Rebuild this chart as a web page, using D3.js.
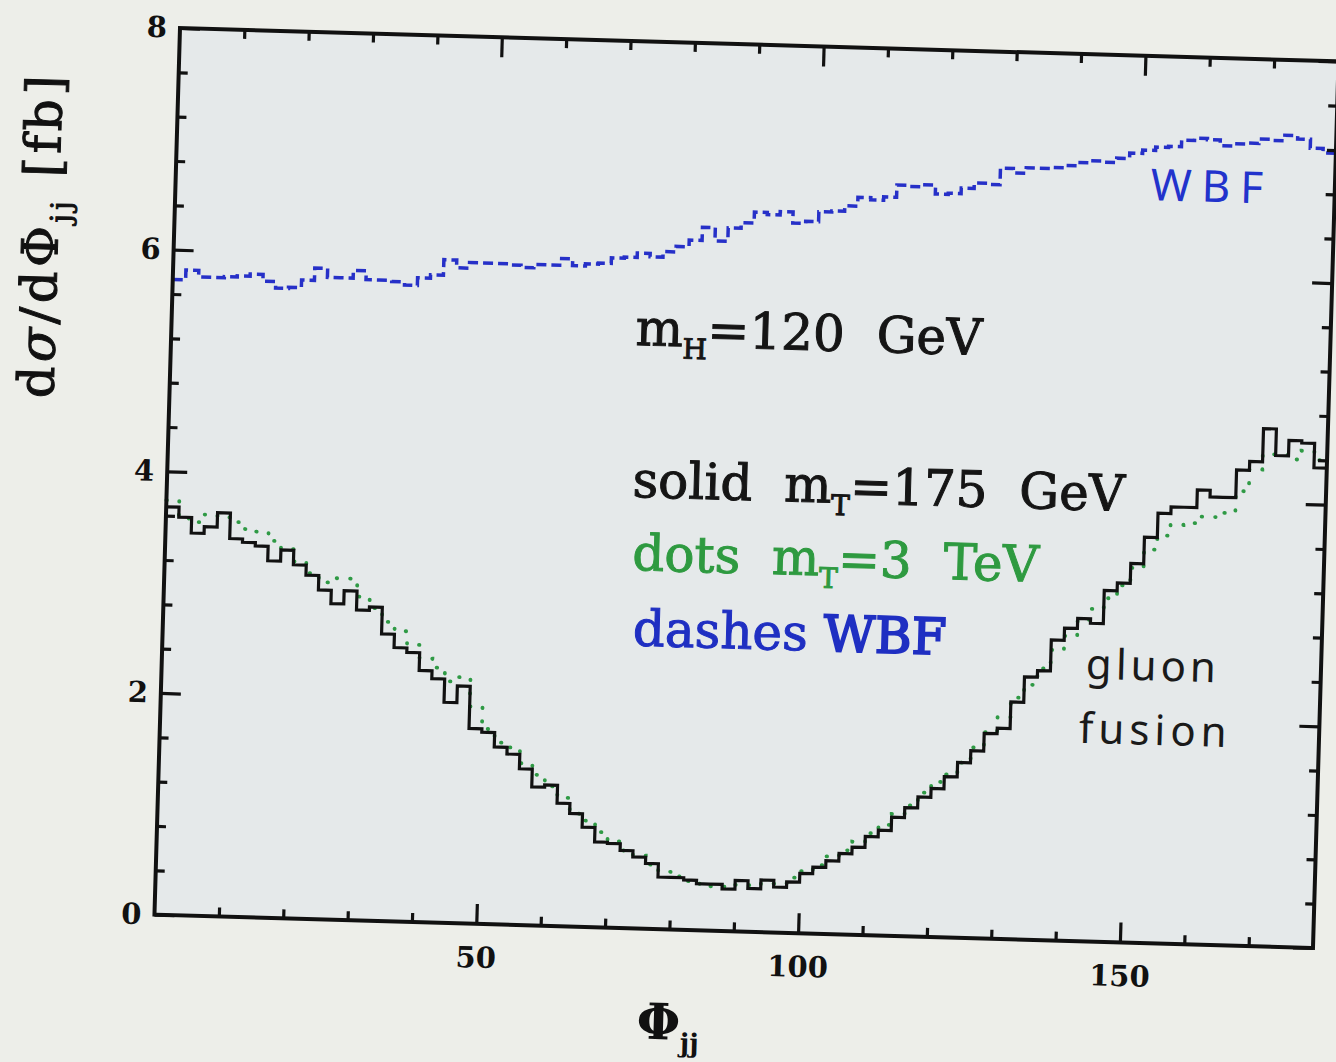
<!DOCTYPE html>
<html lang="en">
<head>
<meta charset="UTF-8">
<title>dsigma/dPhi_jj</title>
<script src="https://d3js.org/d3.v7.min.js"></script>
<style>
    html, body { margin: 0; background: #ecede8; }
    svg { display: block; }
    .axis path { display: none; }
    .axis line { stroke: #111; stroke-width: 3.2; }
    .axis text { font-family: "DejaVu Serif", serif; font-weight: bold; font-size: 29px; fill: #111; }
    .note { font-family: "DejaVu Serif", serif; font-size: 50px; white-space: pre; stroke-width: 1; }
    .hand { font-family: "Noto Sans", sans-serif; }
</style>
</head>
<body>
<script>

// histogram bins, 2 degrees wide, 0..180
var binWidth = 2;

// solid: m_T = 175 GeV (gluon fusion)
var topMass175 = [3.68, 3.59, 3.45, 3.51, 3.64, 3.41, 3.38, 3.35, 3.22, 3.32,
    3.19, 3.10, 2.97, 2.85, 2.97, 2.80, 2.83, 2.59, 2.47, 2.43,
    2.27, 2.20, 1.99, 2.14, 1.76, 1.73, 1.60, 1.54, 1.41, 1.25,
    1.27, 1.11, 1.02, 0.90, 0.77, 0.76, 0.70, 0.645, 0.59, 0.47,
    0.47, 0.45, 0.42, 0.42, 0.38, 0.46, 0.39, 0.47, 0.41, 0.46,
    0.54, 0.60, 0.66, 0.73, 0.79, 0.89, 0.95, 1.07, 1.16, 1.26,
    1.34, 1.45, 1.58, 1.69, 1.85, 1.90, 2.14, 2.37, 2.43, 2.71,
    2.82, 2.91, 2.87, 3.17, 3.24, 3.42, 3.66, 3.88, 3.94, 3.94,
    4.10, 4.04, 4.04, 4.29, 4.37, 4.67, 4.43, 4.57, 4.55, 4.33];

// dots: m_T = 3 TeV
var topMass3TeV = [3.74, 3.58, 3.55, 3.62, 3.60, 3.56, 3.50, 3.48, 3.40, 3.33,
    3.22, 3.12, 3.04, 3.08, 3.08, 2.92, 2.82, 2.70, 2.62, 2.50,
    2.38, 2.30, 2.18, 2.22, 1.96, 1.76, 1.64, 1.60, 1.46, 1.36,
    1.26, 1.16, 1.02, 0.96, 0.86, 0.78, 0.70, 0.66, 0.58, 0.52,
    0.48, 0.44, 0.42, 0.40, 0.40, 0.42, 0.42, 0.44, 0.44, 0.50,
    0.56, 0.62, 0.70, 0.76, 0.84, 0.92, 1.00, 1.10, 1.18, 1.30,
    1.40, 1.47, 1.58, 1.72, 1.86, 2.00, 2.18, 2.30, 2.45, 2.62,
    2.75, 2.90, 3.00, 3.10, 3.22, 3.38, 3.55, 3.68, 3.78, 3.80,
    3.86, 3.86, 3.90, 4.10, 4.30, 4.44, 4.44, 4.40, 4.48, 4.40];

// dashes: WBF
var wbf = [5.73, 5.82, 5.76, 5.76, 5.77, 5.78, 5.80, 5.74, 5.68, 5.69,
    5.76, 5.87, 5.79, 5.79, 5.86, 5.78, 5.78, 5.77, 5.74, 5.81,
    5.84, 5.98, 5.91, 5.96, 5.96, 5.96, 5.95, 5.93, 5.96, 5.96,
    6.02, 5.96, 5.98, 5.99, 6.04, 6.05, 6.09, 6.06, 6.11, 6.16,
    6.22, 6.34, 6.22, 6.34, 6.39, 6.49, 6.47, 6.50, 6.40, 6.42,
    6.51, 6.52, 6.57, 6.65, 6.63, 6.66, 6.77, 6.76, 6.78, 6.70,
    6.71, 6.76, 6.81, 6.80, 6.95, 6.91, 6.96, 6.96, 6.97, 6.99,
    7.02, 7.04, 7.03, 7.07, 7.12, 7.15, 7.18, 7.19, 7.25, 7.27,
    7.26, 7.21, 7.23, 7.24, 7.28, 7.27, 7.32, 7.29, 7.21, 7.17];

var xMajorTicks = [50, 100, 150];
var xMinorTicks = [10, 20, 30, 40, 60, 70, 80, 90, 110, 120, 130, 140, 160, 170];
var yMajorTicks = [0, 2, 4, 6, 8];
var yMinorTicks = [0.4, 0.8, 1.2, 1.6, 2.4, 2.8, 3.2, 3.6, 4.4, 4.8, 5.2, 5.6, 6.4, 6.8, 7.2, 7.6];

var W = 1159, H = 887;

var svg = d3.select("body").append("svg")
    .attr("width", 1336)
    .attr("height", 1062);

svg.append("rect")
    .attr("width", 1336).attr("height", 1062)
    .attr("fill", "#edeee9");

// the scanned page sits a little tilted
var g = svg.append("g")
    .attr("transform", "translate(180,28) rotate(1.65)");

var x = d3.scaleLinear().domain([0, 180]).range([0, W]);
var y = d3.scaleLinear().domain([0, 8]).range([H, 0]);

g.append("rect")
    .attr("width", W).attr("height", H)
    .attr("fill", "#e5e9ea");

function steps(values) {
    var pts = values.map(function (v, i) { return [i * binWidth, v]; });
    pts.push([values.length * binWidth, values[values.length - 1]]);
    return pts;
}

var line = d3.line()
    .x(function (d) { return x(d[0]); })
    .y(function (d) { return y(d[1]); })
    .curve(d3.curveStepAfter);

g.append("path")
    .attr("d", line(steps(wbf)))
    .attr("fill", "none")
    .attr("stroke", "#2630c8")
    .attr("stroke-width", 3.5)
    .attr("stroke-dasharray", "10,5");

g.append("path")
    .attr("d", line(steps(topMass3TeV)))
    .attr("fill", "none")
    .attr("stroke", "#2f9a45")
    .attr("stroke-width", 3.8)
    .attr("stroke-linecap", "round")
    .attr("stroke-dasharray", "0.5,13");

g.append("path")
    .attr("d", line(steps(topMass175)))
    .attr("fill", "none")
    .attr("stroke", "#111")
    .attr("stroke-width", 3.2);

// axes, ticks pointing inward on all four sides
function addAxis(gen, tr) {
    g.append("g").attr("class", "axis").attr("transform", tr).call(gen);
}
addAxis(d3.axisBottom(x).tickValues(xMajorTicks).tickSize(-20).tickPadding(23).tickFormat(d3.format("d")), "translate(0," + H + ")");
addAxis(d3.axisBottom(x).tickValues(xMinorTicks).tickSize(-9).tickFormat(""), "translate(0," + H + ")");
addAxis(d3.axisTop(x).tickValues(xMajorTicks).tickSize(-20).tickFormat(""), "translate(0,0)");
addAxis(d3.axisTop(x).tickValues(xMinorTicks).tickSize(-9).tickFormat(""), "translate(0,0)");
addAxis(d3.axisLeft(y).tickValues(yMajorTicks).tickSize(-20).tickPadding(13).tickFormat(d3.format("d")), "translate(0,0)");
addAxis(d3.axisLeft(y).tickValues(yMinorTicks).tickSize(-9).tickFormat(""), "translate(0,0)");
addAxis(d3.axisRight(y).tickValues(yMajorTicks).tickSize(-20).tickFormat(""), "translate(" + W + ",0)");
addAxis(d3.axisRight(y).tickValues(yMinorTicks).tickSize(-9).tickFormat(""), "translate(" + W + ",0)");

g.append("rect")
    .attr("width", W).attr("height", H)
    .attr("fill", "none")
    .attr("stroke", "#111")
    .attr("stroke-width", 4);

// axis titles
var yt = g.append("text")
    .attr("class", "note")
    .attr("transform", "translate(-116," + y(6.1) + ") rotate(-90)")
    .attr("text-anchor", "middle")
    .attr("font-size", 52)
    .attr("letter-spacing", 4)
    .attr("fill", "#111")
    .attr("stroke", "#111");
yt.append("tspan").text("d");
yt.append("tspan").attr("font-style", "italic").text("\u03c3");
yt.append("tspan").text("/d\u03a6");
yt.append("tspan").attr("font-size", 28).attr("dy", 12).text("jj");
yt.append("tspan").attr("dy", -12).text(" [fb]");

var xt = g.append("text")
    .attr("class", "note")
    .attr("x", x(80.2)).attr("y", H + 110)
    .attr("text-anchor", "middle")
    .attr("font-size", 44)
    .attr("font-weight", "bold")
    .attr("fill", "#111");
xt.append("tspan").text("\u03a6");
xt.append("tspan").attr("font-size", 26).attr("dy", 12).text("jj");

// legend-ish annotations
function note(px, py, color, parts) {
    var t = g.append("text")
        .attr("class", "note")
        .attr("x", x(px)).attr("y", y(py))
        .attr("fill", color)
        .attr("stroke", color);
    parts.forEach(function (p) {
        var s = t.append("tspan").text(p[0]);
        if (p[1] === "sub") s.attr("font-size", 28).attr("dy", 12);
        if (p[1] === "up") s.attr("dy", -12);
        if (p[1] === "heavy") s.attr("stroke-width", 2);
    });
}
note(72.1, 5.26, "#151515", [["m"], ["H", "sub"], ["=120  GeV", "up"]]);
note(72.3, 3.89, "#151515", [["solid  m"], ["T", "sub"], ["=175  GeV", "up"]]);
note(72.6, 3.23, "#2e9a40", [["dots  m"], ["T", "sub"], ["=3  TeV", "up"]]);
note(73.0, 2.55, "#1f2fc2", [["dashes "], ["WBF", "heavy"]]);

// hand written labels
g.append("text")
    .attr("class", "hand")
    .attr("x", x(151.4)).attr("y", y(6.70))
    .attr("font-size", 44)
    .attr("letter-spacing", 10)
    .attr("fill", "#2233cc")
    .text("WBF");

g.append("text")
    .attr("class", "hand")
    .attr("x", x(143.5)).attr("y", y(2.37))
    .attr("font-size", 42)
    .attr("letter-spacing", 4)
    .attr("fill", "#1a1a1a")
    .text("gluon");

g.append("text")
    .attr("class", "hand")
    .attr("x", x(142.7)).attr("y", y(1.79))
    .attr("font-size", 42)
    .attr("letter-spacing", 5)
    .attr("fill", "#1a1a1a")
    .text("fusion");

</script>
</body>
</html>
